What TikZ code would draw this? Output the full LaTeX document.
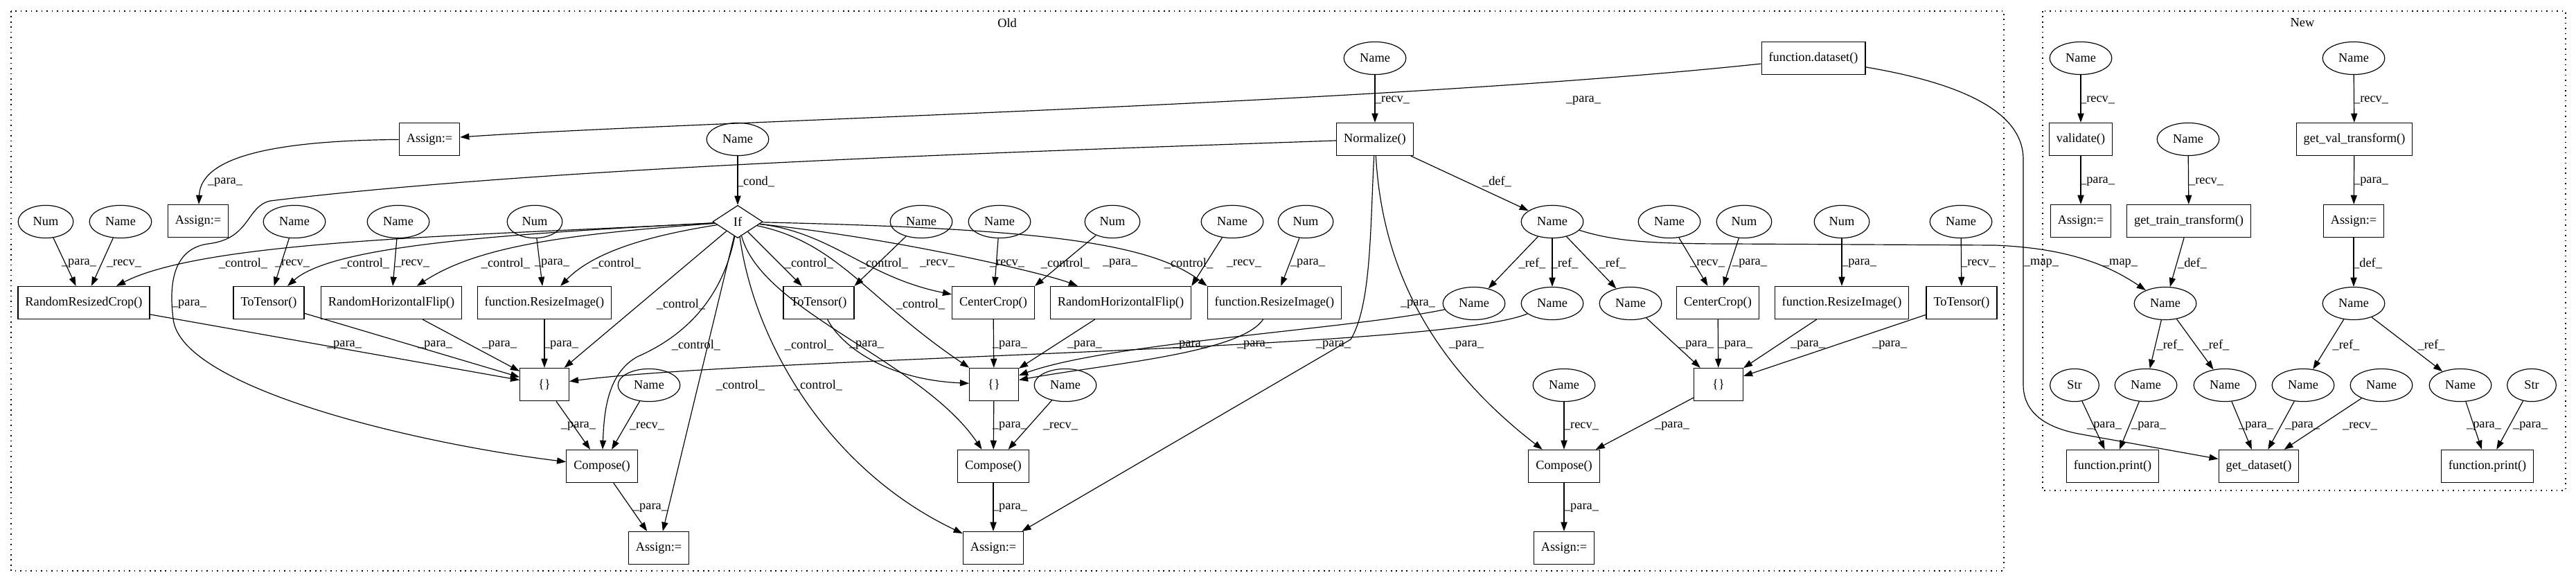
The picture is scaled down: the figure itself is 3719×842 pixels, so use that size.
\documentclass[tikz,border=0pt]{standalone}
\usepackage{fontspec}
\setmainfont{Liberation Serif}
\usetikzlibrary{shapes.geometric,arrows.meta}
\begin{document}
\begin{tikzpicture}[x=0.7634pt,y=-0.7634pt,
 every node/.style={font=\fontsize{14pt}{16pt}\selectfont},
 box/.style={draw, rectangle, minimum height=36pt, minimum width=54pt, inner xsep=8pt, inner ysep=0pt, line width=0.9pt},
 ell/.style={draw, ellipse, minimum height=36pt, minimum width=54pt, inner xsep=7.5pt, inner ysep=0pt, line width=0.9pt},
 dia/.style={draw, diamond, aspect=1.5, minimum width=55pt, minimum height=36pt, inner sep=0pt, line width=0.9pt},
 edg/.style={draw, line width=0.9pt, -{Triangle[length=10pt,width=7pt]}},
 lbl/.style={inner sep=0pt},
 clus/.style={draw, line width=1pt, dash pattern=on 1.2pt off 4.5pt}]
\useasboundingbox (0,0) rectangle (3719,842);
% clusters
\draw[clus] (16,16) rectangle (2893,824);
\node[lbl] (oldlab) at (1454,33) {Old};
\draw[clus] (2949,16) rectangle (3704,708);
\node[lbl] (newlab) at (3324,33) {New};
% ---------- Old nodes
\node[box] (A1) at (620,201) {Assign:=};
\node[box] (A2) at (286,319) {Assign:=};
\node[ell] (n1) at (66,320) {Num};
\node[ell] (nm1) at (174,320) {Name};
\node[ell] (nm2) at (425,320) {Name};
\node[ell] (nm3) at (575,320) {Name};
\node[ell] (n2) at (772,320) {Num};
\node[box] (RRC) at (121,437) {RandomResizedCrop()};
\node[box] (tt1) at (388,437) {ToTensor()};
\node[box] (rhf1) at (565,437) {RandomHorizontalFlip()};
\node[box] (ri1) at (786,437) {function.ResizeImage()};
\node[box] (b1) at (786,555) {\{\}};
\node[ell] (nm4) at (937,556) {Name};
\node[box] (c1) at (869,673) {Compose()};
\node[box] (A3) at (951,791) {Assign:=};
\node[ell] (nm5) at (1065,201) {Name};
\node[dia] (If) at (1065,320) {If};
\node[ell] (nm6) at (1330,320) {Name};
\node[ell] (nm7) at (1443,320) {Name};
\node[ell] (n3) at (1606,320) {Num};
\node[ell] (nm8) at (1779,320) {Name};
\node[ell] (n4) at (1885,320) {Num};
\node[box] (tt2) at (1182,437) {ToTensor()};
\node[box] (cc1) at (1434,437) {CenterCrop()};
\node[box] (rhf2) at (1618,437) {RandomHorizontalFlip()};
\node[box] (ri2) at (1840,437) {function.ResizeImage()};
\node[box] (b2) at (1435,555) {\{\}};
\node[ell] (nm9) at (1538,556) {Name};
\node[box] (c2) at (1434,673) {Compose()};
\node[box] (A4) at (1434,791) {Assign:=};
\node[ell] (nm10) at (1985,84) {Name};
\node[box] (fd) at (2618,84) {function.dataset()};
\node[box] (norm) at (1985,201) {Normalize()};
\node[ell] (nm11) at (2241,320) {Name};
\node[ell] (nm12) at (2410,320) {Name};
\node[ell] (n5) at (2518,320) {Num};
\node[ell] (n6) at (2659,320) {Num};
\node[ell] (nm13) at (2831,320) {Name};
\node[ell] (r1) at (2128,438) {Name};
\node[ell] (r2) at (2241,438) {Name};
\node[ell] (r3) at (2354,438) {Name};
\node[box] (cc2) at (2480,437) {CenterCrop()};
\node[box] (ri3) at (2659,437) {function.ResizeImage()};
\node[box] (tt3) at (2832,437) {ToTensor()};
\node[box] (b3) at (2481,555) {\{\}};
\node[ell] (nm14) at (2258,556) {Name};
\node[box] (c3) at (2258,673) {Compose()};
\node[box] (A5) at (2258,791) {Assign:=};
% ---------- New nodes
\node[ell] (nm15) at (3004,84) {Name};
\node[ell] (nm16) at (3398,84) {Name};
\node[box] (val) at (3004,201) {validate()};
\node[ell] (nm17) at (3159,201) {Name};
\node[box] (gvt) at (3399,201) {get\_val\_transform()};
\node[box] (A6) at (3004,319) {Assign:=};
\node[box] (gtt) at (3160,319) {get\_train\_transform()};
\node[box] (A7) at (3398,319) {Assign:=};
\node[ell] (nm18) at (3126,438) {Name};
\node[ell] (nm19) at (3398,438) {Name};
\node[ell] (s1) at (2995,556) {Str};
\node[ell] (nm20) at (3098,556) {Name};
\node[ell] (nm21) at (3212,556) {Name};
\node[ell] (nm22) at (3325,556) {Name};
\node[ell] (nm23) at (3438,556) {Name};
\node[ell] (nm24) at (3552,556) {Name};
\node[ell] (s2) at (3655,556) {Str};
\node[box] (fp1) at (3050,673) {function.print()};
\node[box] (gd) at (3261,673) {get\_dataset()};
\node[box] (fp2) at (3591,673) {function.print()};
% ---------- Old edges
\draw[edg] (fd) .. controls (2000,150) and (1000,175) .. (A1);
\draw[edg] (A1) .. controls (400,203) and (290,225) .. (A2);
\draw[edg] (fd) .. controls (2800,115) and (2921,150) .. (2921,230) -- (2921,555) .. controls (2921,600) and (2960,618) .. (3000,626) -- (gd);
\draw[edg] (nm10) -- (norm);
\draw[edg] (norm) .. controls (1500,218) and (800,240) .. (390,290) .. controls (355,298) and (362,345) .. (300,352) .. controls (245,360) and (245,420) .. (250,460) .. controls (260,560) and (600,640) .. (c1);
\draw[edg] (norm) .. controls (1978,330) and (1980,440) .. (1950,490) -- (A4);
\draw[edg] (norm) .. controls (1995,380) and (2060,520) .. (c3);
\draw[edg] (norm) -- (nm11);
\draw[edg] (nm11) -- (r1);
\draw[edg] (nm11) -- (r2);
\draw[edg] (nm11) -- (r3);
\draw[edg] (nm11) .. controls (2330,348) and (2380,352) .. (2500,352) -- (2880,354) .. controls (2980,358) and (3040,380) .. (nm18);
\draw[edg] (r1) .. controls (1950,475) and (1600,495) .. (b2);
\draw[edg] (r2) .. controls (2080,505) and (1100,515) .. (b1);
\draw[edg] (ri2) .. controls (1790,510) and (1600,525) .. (b2);
\draw[edg] (If) .. controls (700,340) and (300,345) .. (RRC);
\draw[edg] (If) .. controls (720,338) and (480,355) .. (tt1);
\draw[edg] (If) .. controls (820,338) and (690,355) .. (rhf1);
\draw[edg] (If) .. controls (950,338) and (860,360) .. (ri1);
\draw[edg] (If) -- (b1);
\draw[edg] (If) .. controls (1045,420) and (1000,480) .. (920,515) .. controls (875,540) and (872,600) .. (c1);
\draw[edg] (If) -- (A3);
\draw[edg] (If) .. controls (1090,500) and (1200,680) .. (A4);
\draw[edg] (If) -- (tt2);
\draw[edg] (If) .. controls (1200,335) and (1250,400) .. (cc1);
\draw[edg] (If) .. controls (1210,350) and (1250,430) .. (b2);
\draw[edg] (If) .. controls (1100,450) and (1330,520) .. (c2);
\draw[edg] (If) .. controls (1300,345) and (1510,395) .. (rhf2);
\draw[edg] (If) .. controls (1500,330) and (1660,350) .. (ri2.north west);
\draw[edg] (nm5) -- (If);
\draw[edg] (nm6) -- (tt2.north east);
\draw[edg] (nm7) -- (cc1);
\draw[edg] (n3) -- (cc1.north east);
\draw[edg] (nm8) -- (rhf2.north east);
\draw[edg] (n4) -- (ri2);
\draw[edg] (n1) -- (RRC);
\draw[edg] (nm1) -- (RRC);
\draw[edg] (nm2) -- (tt1);
\draw[edg] (nm3) -- (rhf1);
\draw[edg] (n2) -- (ri1);
\draw[edg] (RRC) -- (b1);
\draw[edg] (tt1) -- (b1);
\draw[edg] (rhf1) -- (b1);
\draw[edg] (ri1) -- (b1);
\draw[edg] (b1) -- (c1);
\draw[edg] (nm4) -- (c1);
\draw[edg] (c1) -- (A3);
\draw[edg] (tt2) .. controls (1215,500) and (1280,548) .. (b2);
\draw[edg] (cc1) -- (b2);
\draw[edg] (rhf2) -- (b2);
\draw[edg] (b2) -- (c2);
\draw[edg] (nm9) -- (c2);
\draw[edg] (c2) -- (A4);
\draw[edg] (nm12) -- (cc2);
\draw[edg] (n5) -- (cc2);
\draw[edg] (n6) -- (ri3);
\draw[edg] (nm13) -- (tt3);
\draw[edg] (r3) -- (b3);
\draw[edg] (cc2) -- (b3);
\draw[edg] (ri3) -- (b3);
\draw[edg] (tt3) -- (b3);
\draw[edg] (b3) -- (c3);
\draw[edg] (nm14) -- (c3);
\draw[edg] (c3) -- (A5);
% ---------- New edges
\draw[edg] (nm15) -- (val);
\draw[edg] (val) -- (A6);
\draw[edg] (nm17) -- (gtt);
\draw[edg] (nm16) -- (gvt);
\draw[edg] (gvt) -- (A7);
\draw[edg] (gtt) -- (nm18);
\draw[edg] (A7) -- (nm19);
\draw[edg] (nm18) -- (nm20);
\draw[edg] (nm18) -- (nm21);
\draw[edg] (nm19) -- (nm22);
\draw[edg] (nm19) -- (nm24);
\draw[edg] (s1) -- (fp1);
\draw[edg] (nm20) -- (fp1);
\draw[edg] (nm21) -- (gd);
\draw[edg] (nm22) -- (gd);
\draw[edg] (nm23) -- (gd);
\draw[edg] (nm24) -- (fp2);
\draw[edg] (s2) -- (fp2);
% ---------- labels
\node[lbl] (l1) at (325,263) {\_para\_};
\node[lbl] (l2) at (2286,145) {\_para\_};
\node[lbl] (l3) at (2947,380) {\_map\_};
\node[lbl] (l4) at (2010,144) {\_recv\_};
\node[lbl] (l5) at (273,439) {\_para\_};
\node[lbl] (l6) at (1925,498) {\_para\_};
\node[lbl] (l7) at (2047,439) {\_para\_};
\node[lbl] (l8) at (2161,262) {\_def\_};
\node[lbl] (l9) at (2212,380) {\_ref\_};
\node[lbl] (l10) at (2259,380) {\_ref\_};
\node[lbl] (l11) at (2328,380) {\_ref\_};
\node[lbl] (l12) at (3061,380) {\_map\_};
\node[lbl] (l13) at (1718,498) {\_para\_};
\node[lbl] (l14) at (2117,498) {\_para\_};
\node[lbl] (l15) at (1811,498) {\_para\_};
\node[lbl] (l16) at (114,380) {\_para\_};
\node[lbl] (l17) at (179,380) {\_recv\_};
\node[lbl] (l18) at (422,380) {\_recv\_};
\node[lbl] (l19) at (595,380) {\_recv\_};
\node[lbl] (l20) at (797,380) {\_para\_};
\node[lbl] (l21) at (351,380) {\_control\_};
\node[lbl] (l22) at (527,380) {\_control\_};
\node[lbl] (l23) at (730,380) {\_control\_};
\node[lbl] (l24) at (890,380) {\_control\_};
\node[lbl] (l25) at (983,439) {\_control\_};
\node[lbl] (l26) at (1005,498) {\_control\_};
\node[lbl] (l27) at (1069,556) {\_control\_};
\node[lbl] (l28) at (1181,556) {\_control\_};
\node[lbl] (l29) at (1168,380) {\_control\_};
\node[lbl] (l30) at (1276,380) {\_control\_};
\node[lbl] (l31) at (1329,439) {\_control\_};
\node[lbl] (l32) at (1168,498) {\_control\_};
\node[lbl] (l33) at (1538,380) {\_control\_};
\node[lbl] (l34) at (1716,380) {\_control\_};
\node[lbl] (l35) at (1091,262) {\_cond\_};
\node[lbl] (l36) at (1353,380) {\_recv\_};
\node[lbl] (l37) at (1454,380) {\_recv\_};
\node[lbl] (l38) at (1617,380) {\_para\_};
\node[lbl] (l39) at (1796,380) {\_recv\_};
\node[lbl] (l40) at (1888,380) {\_para\_};
\node[lbl] (l41) at (497,498) {\_para\_};
\node[lbl] (l42) at (628,498) {\_para\_};
\node[lbl] (l43) at (721,498) {\_para\_};
\node[lbl] (l44) at (810,498) {\_para\_};
\node[lbl] (l45) at (1251,498) {\_para\_};
\node[lbl] (l46) at (1458,498) {\_para\_};
\node[lbl] (l47) at (1566,498) {\_para\_};
\node[lbl] (l48) at (835,615) {\_para\_};
\node[lbl] (l49) at (934,615) {\_recv\_};
\node[lbl] (l50) at (939,733) {\_para\_};
\node[lbl] (l51) at (1458,615) {\_para\_};
\node[lbl] (l52) at (1531,615) {\_recv\_};
\node[lbl] (l53) at (1458,733) {\_para\_};
\node[lbl] (l54) at (2465,380) {\_recv\_};
\node[lbl] (l55) at (2526,380) {\_para\_};
\node[lbl] (l56) at (2684,380) {\_para\_};
\node[lbl] (l57) at (2856,380) {\_recv\_};
\node[lbl] (l58) at (2449,498) {\_para\_};
\node[lbl] (l59) at (2505,498) {\_para\_};
\node[lbl] (l60) at (2610,498) {\_para\_};
\node[lbl] (l61) at (2728,498) {\_para\_};
\node[lbl] (l62) at (2414,615) {\_para\_};
\node[lbl] (l63) at (2283,615) {\_recv\_};
\node[lbl] (l64) at (2283,733) {\_para\_};
\node[lbl] (l65) at (3028,144) {\_recv\_};
\node[lbl] (l66) at (3028,262) {\_para\_};
\node[lbl] (l67) at (3185,262) {\_recv\_};
\node[lbl] (l68) at (3423,144) {\_recv\_};
\node[lbl] (l69) at (3423,262) {\_para\_};
\node[lbl] (l70) at (3165,380) {\_def\_};
\node[lbl] (l71) at (3418,380) {\_def\_};
\node[lbl] (l72) at (3133,498) {\_ref\_};
\node[lbl] (l73) at (3199,498) {\_ref\_};
\node[lbl] (l74) at (3387,498) {\_ref\_};
\node[lbl] (l75) at (3510,498) {\_ref\_};
\node[lbl] (l76) at (3038,615) {\_para\_};
\node[lbl] (l77) at (3102,615) {\_para\_};
\node[lbl] (l78) at (3257,615) {\_para\_};
\node[lbl] (l79) at (3324,615) {\_para\_};
\node[lbl] (l80) at (3407,615) {\_recv\_};
\node[lbl] (l81) at (3586,615) {\_para\_};
\node[lbl] (l82) at (3653,615) {\_para\_};
\end{tikzpicture}
\end{document}
